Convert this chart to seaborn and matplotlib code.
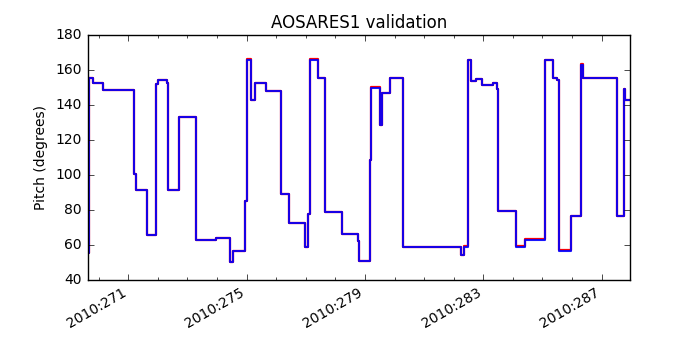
import matplotlib
matplotlib.use('Agg')
import matplotlib.pyplot as plt
import matplotlib.ticker as mticker
import numpy as np
import pandas as pd
import seaborn as sns

# step change times (day of year 2010) and pitch held after each change
times = [269.62, 269.68, 269.82, 270.16, 271.18, 271.26, 271.62, 271.94,
         271.99, 272.30, 272.35, 272.70, 273.29, 273.95, 274.44, 274.55,
         274.95, 275.02, 275.16, 275.28, 275.66, 276.15, 276.42, 276.96,
         277.09, 277.14, 277.40, 277.66, 278.22, 278.75, 278.80, 279.16,
         279.20, 279.50, 279.59, 279.84, 280.27, 282.24, 282.34, 282.49,
         282.58, 282.77, 282.97, 283.33, 283.45, 283.49, 284.09, 284.40,
         285.09, 285.35, 285.50, 285.57, 285.96, 286.32, 286.37, 287.53,
         287.76, 287.79, 287.96]
pitch = [55.4, 155.5, 152.3, 148.5, 100.7, 91.7, 65.6, 152.0,
         154.2, 152.7, 91.7, 133.2, 62.9, 63.8, 50.5, 56.8,
         85.4, 166.0, 142.7, 152.3, 148.1, 89.3, 72.4, 59.1,
         77.8, 166.0, 155.5, 78.7, 66.0, 62.0, 50.7, 108.4,
         150.0, 128.8, 146.9, 155.5, 58.7, 54.3, 59.1, 165.7,
         153.8, 154.8, 151.3, 152.7, 149.4, 79.3, 59.1, 63.1,
         165.7, 155.2, 154.2, 56.8, 76.3, 163.0, 155.2, 76.3,
         149.0, 142.7]
model_pitch = [55.4, 155.7, 152.4, 148.6, 100.7, 91.7, 65.6, 152.0,
               154.3, 152.8, 91.7, 133.3, 63.0, 63.9, 50.5, 56.8,
               85.4, 166.1, 142.8, 152.4, 148.2, 89.3, 72.5, 59.1,
               77.8, 166.1, 155.6, 78.8, 66.1, 62.0, 50.7, 108.4,
               150.1, 128.8, 147.0, 155.7, 58.8, 54.3, 59.2, 165.8,
               153.9, 154.9, 151.4, 152.8, 149.4, 79.4, 59.2, 63.2,
               165.8, 155.3, 154.3, 56.9, 76.4, 163.2, 155.3, 76.4,
               149.0, 142.8]

sns.set_style('white')
plt.style.use('classic')
plt.rcParams['font.family'] = ['DejaVu Sans']
plt.rcParams['font.size'] = 10

tele = pd.DataFrame({'time': times, 'pitch': pitch + [pitch[-1]]})
model = pd.DataFrame({'time': times, 'pitch': model_pitch + [model_pitch[-1]]})

fig, ax = plt.subplots(figsize=(7, 3.5), dpi=100)
fig.patch.set_facecolor('white')

sns.lineplot(x='time', y='pitch', data=model, ax=ax, color='r',
             linewidth=1.6, drawstyle='steps-post', estimator=None)
sns.lineplot(x='time', y='pitch', data=tele, ax=ax, color='b',
             linewidth=1.5, alpha=0.9, drawstyle='steps-post', estimator=None)

ax.set_xlim(times[0], times[-1])
ax.set_ylim(40, 180)
ax.yaxis.set_major_locator(mticker.MultipleLocator(20))
ax.xaxis.set_major_locator(mticker.FixedLocator([271, 275, 279, 283, 287]))
ax.xaxis.set_minor_locator(mticker.MultipleLocator(1))
ax.xaxis.set_major_formatter(
    mticker.FuncFormatter(lambda v, pos: '2010:{:03d}'.format(int(round(v)))))
ax.tick_params(which='both', direction='in', top=True, right=True,
               labelsize=10)
ax.tick_params(which='major', length=4)
ax.tick_params(which='minor', length=2)

ax.set_xlabel('')
ax.set_ylabel('Pitch (degrees)', fontsize=10)
ax.set_title('AOSARES1 validation', fontsize=12)

fig.autofmt_xdate()
plt.savefig('out.png', dpi=100, facecolor='white')
plt.close()
